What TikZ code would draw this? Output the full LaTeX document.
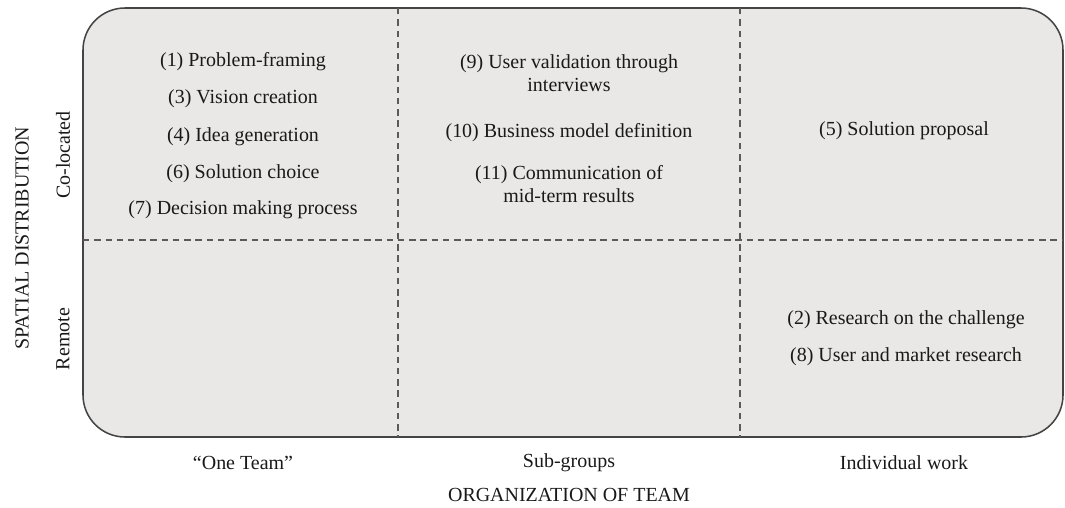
\documentclass[tikz,border=0pt]{standalone}
\usepackage{fontspec}
\setmainfont{Liberation Serif}
\usepackage{xcolor}
\usepackage{tikz}
\usetikzlibrary{positioning}
\definecolor{boxfill}{HTML}{E9E8E7}
\definecolor{boxline}{HTML}{444444}
\definecolor{gridline}{HTML}{5A5A5A}
\tikzstyle{field} = [draw=boxline, line width=1.1pt, fill=boxfill, rounded corners=1.05cm]
\tikzstyle{split} = [draw=gridline, line width=0.8pt, dash pattern=on 4.5pt off 3.5pt]
\tikzstyle{item} = [inner sep=0pt, text centered, align=center, font=\fontsize{14.2}{16.4}\selectfont, text=black!90]
\tikzstyle{axis} = [inner sep=0pt, font=\fontsize{14.2}{16.4}\selectfont, text=black!90]
\begin{document}
\begin{tikzpicture}[x=0.025cm, y=-0.025cm]
	\useasboundingbox (0,0) rectangle (1065,507);
	
	\draw [field] (83,8) rectangle (1063,437);
	\draw [split] (398,8) -- (398,437);
	\draw [split] (740,8) -- (740,437);
	\draw [split] (83,240) -- (1063,240);
	
	% one team, co-located
	\node (p1) [item] at (243,62) {(1) Problem-framing};
	\node (p3) [item] at (243,99) {(3) Vision creation};
	\node (p4) [item] at (243,137) {(4) Idea generation};
	\node (p6) [item] at (243,174) {(6) Solution choice};
	\node (p7) [item] at (243,210) {(7) Decision making process};
	
	% sub-groups, co-located
	\node (p9) [item] at (569,73) {(9) User validation through\\interviews};
	\node (p10) [item] at (569,133) {(10) Business model definition};
	\node (p11) [item] at (569,184) {(11) Communication of\\mid-term results};
	
	% individual work
	\node (p5) [item] at (904,131) {(5) Solution proposal};
	\node (p2) [item] at (906,320) {(2) Research on the challenge};
	\node (p8) [item] at (906,357) {(8) User and market research};
	
	% axes
	\node (t1) [axis] at (243,463) {“One Team”};
	\node (t2) [axis] at (569,463) {Sub-groups};
	\node (t3) [axis] at (904,463) {Individual work};
	\node (tx) [axis] at (569,495) {ORGANIZATION OF TEAM};
	\node (s1) [axis, rotate=90] at (63,155) {Co-located};
	\node (s2) [axis, rotate=90] at (63,339) {Remote};
	\node (sy) [axis, rotate=90] at (22,238) {SPATIAL DISTRIBUTION};
	
\end{tikzpicture}
\end{document}
